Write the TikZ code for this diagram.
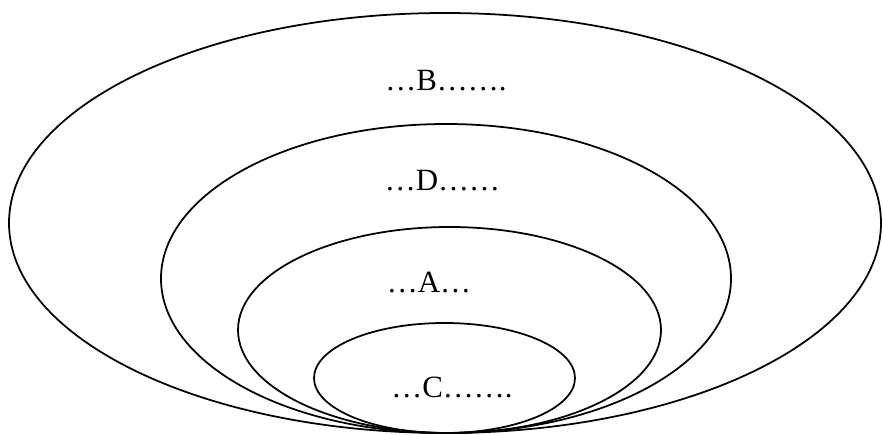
\documentclass[tikz,border=0pt]{standalone}
\usepackage{fontspec}
\setmainfont{Liberation Serif}
\usepackage{tikz}

\begin{document}
\begin{tikzpicture}[ring/.style={draw=black, line width=1pt},
  settext/.style={anchor=base, inner sep=0pt, font=\fontsize{17.6}{20}\selectfont}]
\useasboundingbox (0,0) rectangle (17.66,8.68);

\draw[ring] (8.90,4.22) ellipse (8.72 and 4.20);
\draw[ring] (8.92,3.11) ellipse (5.70 and 3.09);
\draw[ring] (8.99,2.08) ellipse (4.23 and 2.06);
\draw[ring] (8.89,1.12) ellipse (2.61 and 1.10);

\node[settext] (setB) at (8.92,6.88) {…B…….};
\node[settext] (setD) at (8.85,4.88) {…D……};
\node[settext] (setA) at (8.58,2.84) {…A…};
\node[settext] (setC) at (9.04,0.74) {…C…….};
\end{tikzpicture}
\end{document}
